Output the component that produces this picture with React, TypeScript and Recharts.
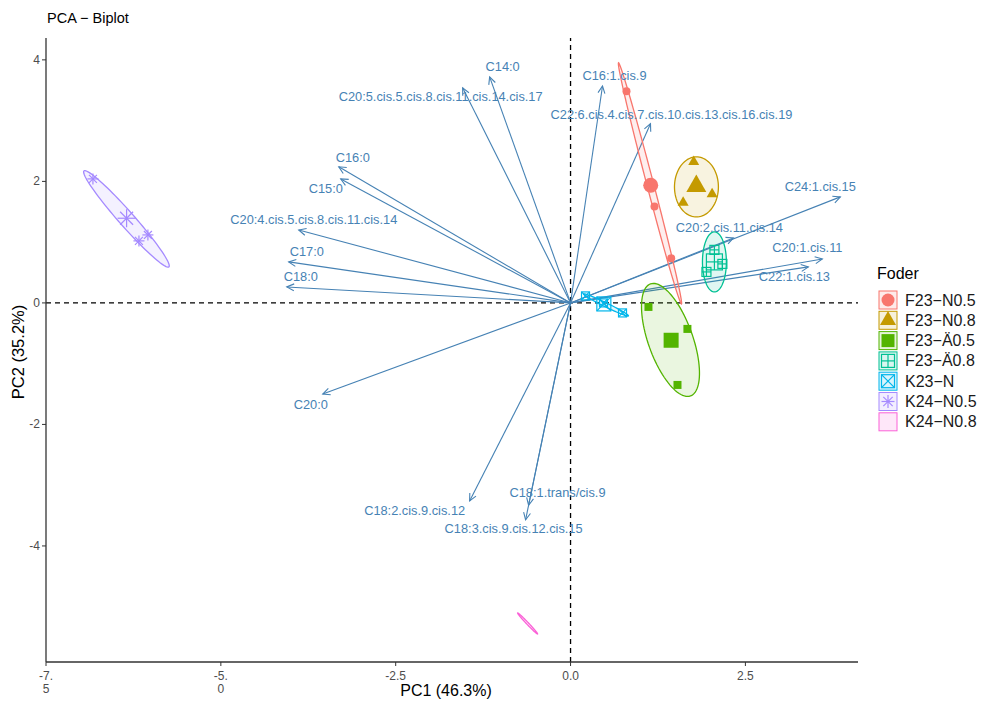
import React from 'react';
import { ScatterChart, Scatter, XAxis, YAxis, ReferenceLine, Customized } from 'recharts';

const FONT = '"Liberation Sans", Arial, Helvetica, sans-serif';
const ARROW_COLOR = '#4682B4';

// ---- axis ticks ----
const xTicks = [-7.5, -5, -2.5, 0, 2.5];
const xTickLabels = [['-7.', '5'], ['-5.', '0'], ['-2.5'], ['0.0'], ['2.5']];
const yTicks = [-4, -2, 0, 2, 4];
const xDomain = [-7.5, 4.11];
const yDomain = [-5.91, 4.36];

// ---- groups ----
const groupNames = ['F23−N0.5', 'F23−N0.8', 'F23−Ä0.5', 'F23−Ä0.8', 'K23−N', 'K24−N0.5', 'K24−N0.8'];
const groupColors = ['#F8766D', '#C49A00', '#53B400', '#00C094', '#00B6EB', '#A58AFF', '#FB61D7'];
const groupShapes = ['circle', 'triangle', 'square', 'squarePlus', 'squareCross', 'asterisk', 'none'];

// individuals (PC1, PC2)
const pointsF23N05 = [{ x: 0.8, y: 3.485 }, { x: 1.2, y: 1.585 }, { x: 1.439, y: 0.736 }];
const pointsF23N08 = [{ x: 1.761, y: 2.323 }, { x: 2.024, y: 1.79 }, { x: 1.61, y: 1.652 }];
const pointsF23A05 = [{ x: 1.114, y: -0.066 }, { x: 1.671, y: -0.428 }, { x: 1.529, y: -1.35 }];
const pointsF23A08 = [{ x: 2.057, y: 0.873 }, { x: 1.943, y: 0.51 }, { x: 2.171, y: 0.642 }];
const pointsK23N = [{ x: 0.214, y: 0.115 }, { x: 0.471, y: 0 }, { x: 0.743, y: -0.165 }];
const pointsK24N05 = [{ x: -6.829, y: 2.041 }, { x: -6.171, y: 1.021 }, { x: -6.043, y: 1.119 }];
const pointsK24N08: { x: number; y: number }[] = [];

// concentration ellipses: centre + two half-axis vectors (data units)
const ellipseF23N05 = { cx: 1.136, cy: 1.967, ax: 0.45, ay: -1.984, bx: 0.047, by: 0.0142 };
const ellipseF23N08 = { cx: 1.8, cy: 1.909, ax: 0.314, ay: 0, bx: 0, by: 0.494 };
const ellipseF23A05 = { cx: 1.429, cy: -0.609, ax: 0.286, ay: -0.922, bx: 0.3, by: 0.123 };
const ellipseF23A08 = { cx: 2.057, cy: 0.675, ax: 0.171, ay: 0, bx: 0, by: 0.494 };
const ellipseK23N = { cx: 0.507, cy: -0.033, ax: 0.321, ay: -0.181, bx: 0.0126, by: 0.0296 };
const ellipseK24N05 = { cx: -6.35, cy: 1.383, ax: 0.607, ay: -0.79, bx: 0.08, by: 0.082 };
const ellipseK24N08 = { cx: -0.614, cy: -5.276, ax: 0.143, ay: -0.173, bx: 0.01, by: 0.0115 };

const groupPoints = [pointsF23N05, pointsF23N08, pointsF23A05, pointsF23A08, pointsK23N, pointsK24N05, pointsK24N08];
const groupEllipses = [ellipseF23N05, ellipseF23N08, ellipseF23A05, ellipseF23A08, ellipseK23N, ellipseK24N05, ellipseK24N08];

// ---- variables (arrows) ----
const varNames = [
  'C14:0', 'C20:5.cis.5.cis.8.cis.11.cis.14.cis.17', 'C16:1.cis.9', 'C22:6.cis.4.cis.7.cis.10.cis.13.cis.16.cis.19',
  'C16:0', 'C15:0', 'C20:4.cis.5.cis.8.cis.11.cis.14', 'C17:0', 'C18:0', 'C20:0',
  'C18:2.cis.9.cis.12', 'C18:3.cis.9.cis.12.cis.15', 'C18:1.trans/cis.9',
  'C24:1.cis.15', 'C20:2.cis.11.cis.14', 'C20:1.cis.11', 'C22:1.cis.13',
];
const varPC1 = [-1.157, -1.543, 0.457, 1.143, -3.314, -3.286, -3.886, -4.03, -4.057, -3.543, -1.443, -0.643, -0.6, 3.857, 2.329, 3.6, 3.4];
const varPC2 = [3.72, 3.54, 3.57, 2.95, 2.24, 2.04, 1.2, 0.675, 0.263, -1.5, -3.26, -3.57, -3.33, 1.745, 1.07, 0.724, 0.593];
const labelPC1 = [-0.971, -1.857, 0.629, 1.443, -3.114, -3.5, -3.671, -3.771, -3.857, -3.714, -2.229, -0.814, -0.186, 3.571, 2.271, 3.386, 3.2];
const labelPC2 = [3.885, 3.39, 3.75, 3.095, 2.387, 1.877, 1.366, 0.84, 0.428, -1.68, -3.42, -3.72, -3.128, 1.91, 1.235, 0.905, 0.428];

const labelData = varNames.map((name, i) => ({ name, x: labelPC1[i], y: labelPC2[i] }));

const ellipsePoints = (e: any) =>
  Array.from({ length: 97 }, (_, k) => {
    const t = (k / 96) * 2 * Math.PI;
    return { x: e.cx + e.ax * Math.cos(t) + e.bx * Math.sin(t), y: e.cy + e.ay * Math.cos(t) + e.by * Math.sin(t) };
  });

const meanOf = (pts: { x: number; y: number }[]) =>
  pts.length ? [{ x: pts.reduce((s, p) => s + p.x, 0) / pts.length, y: pts.reduce((s, p) => s + p.y, 0) / pts.length }] : [];

// ---- symbols ----
function Symbol({ shape, color, cx, cy, s }: any) {
  const h = s / 2;
  switch (shape) {
    case 'circle':
      return <circle cx={cx} cy={cy} r={h} fill={color} />;
    case 'triangle': {
      const r = s / Math.sqrt(3);
      const pts = [[cx, cy - r], [cx + s / 2, cy + r / 2], [cx - s / 2, cy + r / 2]];
      return <polygon points={pts.map((p) => p.join(',')).join(' ')} fill={color} />;
    }
    case 'square':
      return <rect x={cx - h} y={cy - h} width={s} height={s} fill={color} />;
    case 'squarePlus':
      return (
        <g stroke={color} strokeWidth={1.2} fill="none">
          <rect x={cx - h} y={cy - h} width={s} height={s} />
          <line x1={cx - h} y1={cy} x2={cx + h} y2={cy} />
          <line x1={cx} y1={cy - h} x2={cx} y2={cy + h} />
        </g>
      );
    case 'squareCross':
      return (
        <g stroke={color} strokeWidth={1.2} fill="none">
          <rect x={cx - h} y={cy - h} width={s} height={s} />
          <line x1={cx - h} y1={cy - h} x2={cx + h} y2={cy + h} />
          <line x1={cx - h} y1={cy + h} x2={cx + h} y2={cy - h} />
        </g>
      );
    case 'asterisk': {
      const d = h * 0.72;
      return (
        <g stroke={color} strokeWidth={1.2}>
          <line x1={cx - h} y1={cy} x2={cx + h} y2={cy} />
          <line x1={cx} y1={cy - h} x2={cx} y2={cy + h} />
          <line x1={cx - d} y1={cy - d} x2={cx + d} y2={cy + d} />
          <line x1={cx - d} y1={cy + d} x2={cx + d} y2={cy - d} />
        </g>
      );
    }
    default:
      return <g />;
  }
}

const smallSize: Record<string, number> = { circle: 8, triangle: 11, square: 8, squarePlus: 9, squareCross: 8, asterisk: 11, none: 0 };
const bigSize: Record<string, number> = { circle: 15, triangle: 20, square: 15, squarePlus: 16, squareCross: 14, asterisk: 18, none: 0 };

// ---- arrows ----
function ArrowShape(props: any) {
  const { x1, y1, x2, y2 } = props;
  const ang = Math.atan2(y2 - y1, x2 - x1);
  const L = 8;
  const a = Math.PI / 7;
  const p1 = [x2 - L * Math.cos(ang - a), y2 - L * Math.sin(ang - a)];
  const p2 = [x2 - L * Math.cos(ang + a), y2 - L * Math.sin(ang + a)];
  return (
    <g stroke={ARROW_COLOR} strokeWidth={1.1} fill="none">
      <line x1={x1} y1={y1} x2={x2} y2={y2} />
      <polyline points={`${p1[0]},${p1[1]} ${x2},${y2} ${p2[0]},${p2[1]}`} />
    </g>
  );
}

// ---- ticks ----
function XTick(props: any) {
  const { x, y, payload } = props;
  const idx = xTicks.indexOf(payload.value);
  const lines = idx >= 0 ? xTickLabels[idx] : [String(payload.value)];
  return (
    <g>
      {lines.map((l, i) => (
        <text key={i} x={x} y={y + 12 + i * 13} textAnchor="middle" fontSize={12} fill="#4D4D4D" fontFamily={FONT}>
          {l}
        </text>
      ))}
    </g>
  );
}

function YTick(props: any) {
  const { x, y, payload } = props;
  return (
    <text x={x} y={y + 4} textAnchor="end" fontSize={12} fill="#4D4D4D" fontFamily={FONT}>
      {String(payload.value)}
    </text>
  );
}

// ---- overlay: title, axis titles, legend ----
function Overlay() {
  const legendX = 878;
  const legendY0 = 291;
  const step = 20.3;
  return (
    <g fontFamily={FONT}>
      <text x={47} y={23} fontSize={14.5} fill="#000">PCA − Biplot</text>
      <text x={446} y={696} fontSize={16} fill="#000" textAnchor="middle">PC1 (46.3%)</text>
      <text transform="translate(24,352) rotate(-90)" fontSize={16.5} fill="#000" textAnchor="middle">PC2 (35.2%)</text>
      <text x={877} y={279} fontSize={16} fill="#000">Foder</text>
      {groupNames.map((name, i) => {
        const y = legendY0 + i * step;
        const c = groupColors[i];
        return (
          <g key={name}>
            <rect x={legendX + 1} y={y} width={18} height={18} fill={c} fillOpacity={0.15} stroke={c} strokeWidth={1} />
            <Symbol shape={groupShapes[i]} color={c} cx={legendX + 10} cy={y + 9} s={groupShapes[i] === 'triangle' ? 16 : 13} />
            <text x={905} y={y + 14.5} fontSize={16} fill="#1A1A1A">{name}</text>
          </g>
        );
      })}
    </g>
  );
}

export default function App() {
  return (
    <div style={{ position: 'absolute', left: 0, top: 0, background: '#fff' }}>
      <ScatterChart width={984} height={702} margin={{ top: 38, right: 126, bottom: 0, left: 16 }}>
        <XAxis
          type="number"
          dataKey="x"
          domain={xDomain}
          ticks={xTicks}
          allowDataOverflow
          height={40}
          tick={<XTick />}
          tickSize={4}
          axisLine={{ stroke: '#333', strokeWidth: 1.3 }}
          tickLine={{ stroke: '#333' }}
        />
        <YAxis
          type="number"
          dataKey="y"
          domain={yDomain}
          ticks={yTicks}
          allowDataOverflow
          width={30}
          tick={<YTick />}
          tickSize={4}
          axisLine={{ stroke: '#333', strokeWidth: 1.3 }}
          tickLine={{ stroke: '#333' }}
        />
        <ReferenceLine x={0} stroke="#000" strokeDasharray="5 4" strokeWidth={1.3} />
        <ReferenceLine y={0} stroke="#000" strokeDasharray="5 4" strokeWidth={1.3} />

        {groupNames.map((name, i) => (
          <Scatter
            key={'ell' + i}
            name={name + ' ellipse'}
            data={ellipsePoints(groupEllipses[i])}
            isAnimationActive={false}
            shape={() => <g />}
            line={(p: any) => {
              const pts = p.points || [];
              const d = pts.map((q: any, k: number) => `${k ? 'L' : 'M'}${q.x},${q.y}`).join(' ') + ' Z';
              return <path d={d} fill={groupColors[i]} fillOpacity={0.12} stroke={groupColors[i]} strokeWidth={1.3} />;
            }}
            lineType="joint"
            legendType="none"
          />
        ))}

        {groupNames.map((name, i) => (
          <Scatter
            key={'pts' + i}
            name={name}
            data={groupPoints[i]}
            isAnimationActive={false}
            shape={(p: any) => <Symbol shape={groupShapes[i]} color={groupColors[i]} cx={p.cx} cy={p.cy} s={smallSize[groupShapes[i]]} />}
          />
        ))}
        {groupNames.map((name, i) => (
          <Scatter
            key={'mean' + i}
            name={name + ' mean'}
            data={meanOf(groupPoints[i])}
            isAnimationActive={false}
            shape={(p: any) => <Symbol shape={groupShapes[i]} color={groupColors[i]} cx={p.cx} cy={p.cy} s={bigSize[groupShapes[i]]} />}
          />
        ))}

        {varNames.map((n, i) => (
          <ReferenceLine
            key={'arr' + i}
            segment={[{ x: 0, y: 0 }, { x: varPC1[i], y: varPC2[i] }]}
            stroke={ARROW_COLOR}
            shape={ArrowShape}
          />
        ))}

        <Scatter
          name="variable labels"
          data={labelData}
          isAnimationActive={false}
          shape={(p: any) => (
            <text x={p.cx} y={p.cy} dy="0.35em" textAnchor="middle" fontSize={12.8} fill={ARROW_COLOR} fontFamily={FONT}>
              {p.payload.name}
            </text>
          )}
        />
        <Customized component={Overlay} />
      </ScatterChart>
    </div>
  );
}
